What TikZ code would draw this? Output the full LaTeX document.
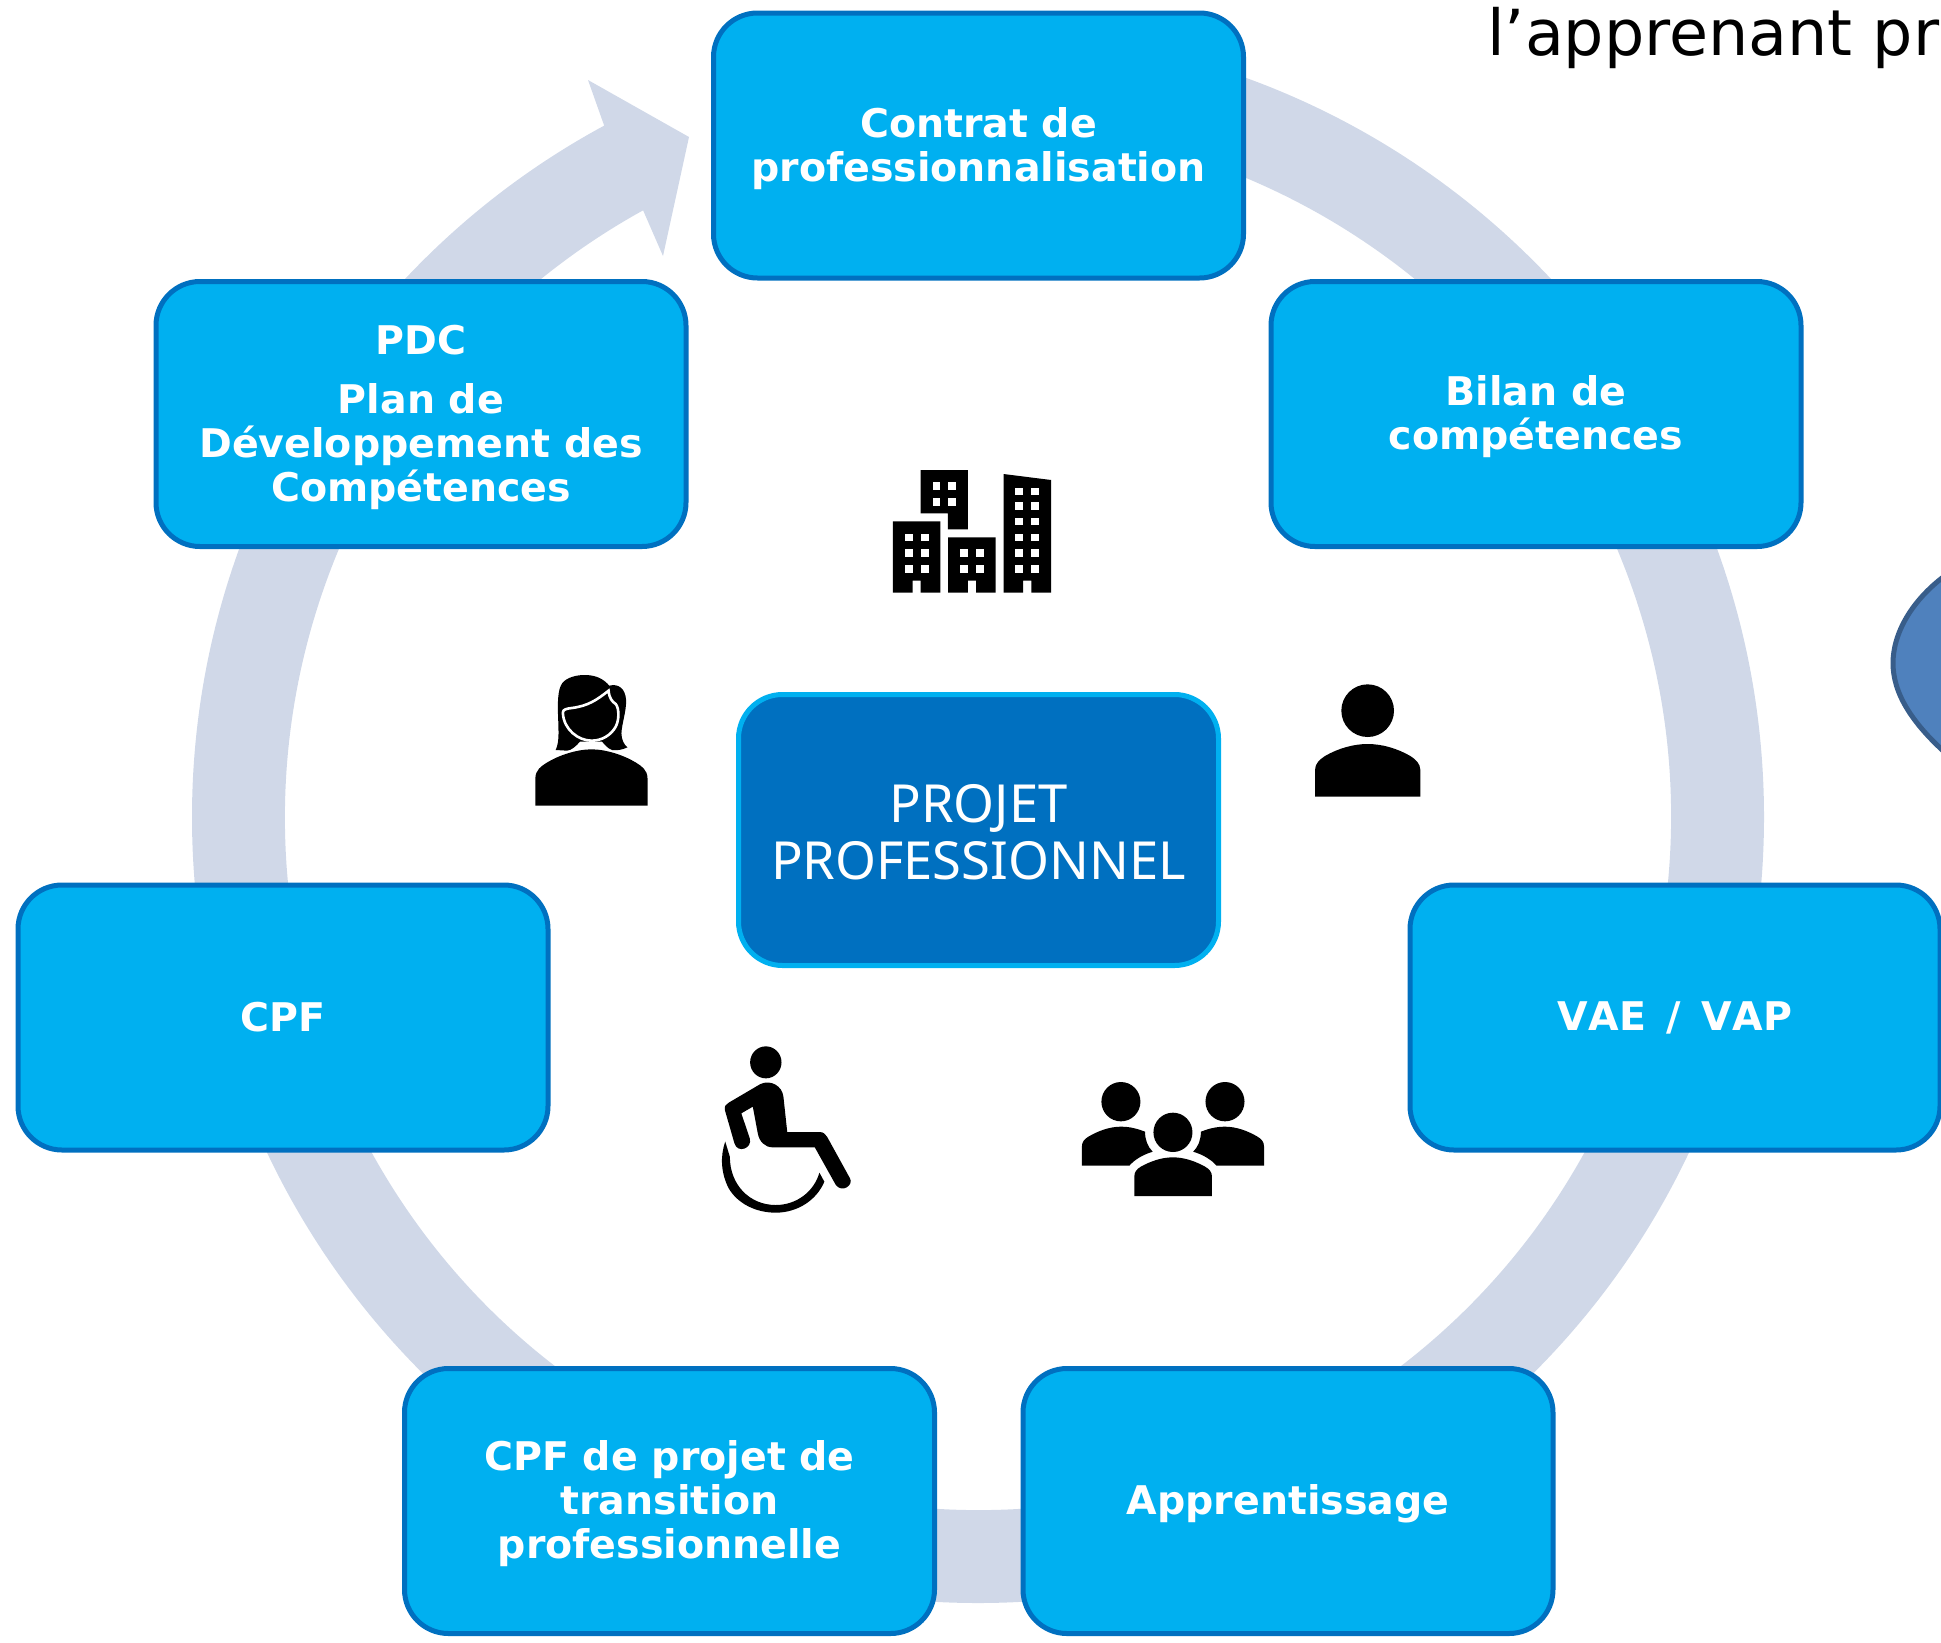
\documentclass[tikz,border=0pt]{standalone}
\usepackage{fontspec}
\setmainfont{DejaVu Sans}
\newfontfamily\ctrfont{Noto Sans}
\definecolor{ringc}{HTML}{D0D8E8}
\definecolor{boxf}{HTML}{00B0F0}
\definecolor{boxd}{HTML}{0070C0}
\definecolor{blobf}{HTML}{4F81BD}
\definecolor{blobd}{HTML}{385D8A}
\tikzset{
  stagebox/.style={rectangle,rounded corners=44pt,draw=boxd,fill=boxf,line width=5pt,
    minimum width=530pt,minimum height=265pt,inner sep=0pt,outer sep=0pt},
  stagetext/.style={text=white,align=center,inner sep=0pt,yshift=-3pt,
    font=\fontsize{39.5}{44}\selectfont\bfseries},
  shorttext/.style={stagetext,yshift=3pt},
  corebox/.style={rectangle,rounded corners=44pt,draw=boxf,fill=boxd,line width=5pt,
    minimum width=480pt,minimum height=271pt,inner sep=0pt,outer sep=0pt},
  coretext/.style={text=white,align=center,inner sep=0pt,yshift=-2pt,
    font=\fontsize{52.5}{57}\selectfont\ctrfont},
  icon/.style={fill=black,draw=none},
  iconwin/.style={fill=white,draw=none},
}
\begin{document}
\begin{tikzpicture}[x=1pt,y=-1pt]
\useasboundingbox (0,0) rectangle (1941,1642);
\coordinate (C) at (978,817);
\path (C) ++(241.1:693) coordinate (Notch);
% ring with arrow head
\fill[ringc] (C) ++(-90:786) arc[start angle=-90,end angle=241.6,radius=786]
  -- (588,80) -- (689,137) -- (663,256) -- (Notch)
  arc[start angle=241.1,end angle=-90,radius=693] -- cycle;
% blob at the right edge
\begin{scope}
\clip (1800,500) rectangle (1941,800);
\draw[fill=blobf,draw=blobd,line width=5pt] (1950,572) .. controls (1910,600) and (1893,635) .. (1893,663)
  .. controls (1893,692) and (1910,722) .. (1950,757) -- (2000,757) -- (2000,572) -- cycle;
\end{scope}
% text cut off by the edge
\node[anchor=base west,inner sep=0pt,font=\fontsize{63.5}{70}\selectfont] (cut) at (1487,55) {l’apprenant pr};
% boxes
\node[stagebox,label={[stagetext]center:Contrat de\\professionnalisation}] (contrat) at (978.5,145.5) {};
\node[stagebox,label={[stagetext]center:PDC\\[15pt]Plan de\\Développement des\\Compétences}] (pdc) at (421,414) {};
\node[stagebox,label={[stagetext]center:Bilan de\\compétences}] (bilan) at (1536,414) {};
\node[stagebox,label={[shorttext]center:CPF}] (cpf) at (283,1017.5) {};
\node[stagebox,label={[shorttext]center:{\addfontfeature{Kerning=Off}VAE\hspace{7pt} / \hspace{7pt}VAP}}] (vae) at (1675,1017.5) {};
\node[stagebox,label={[stagetext]center:CPF de projet de\\transition\\professionnelle}] (cpfp) at (669.5,1501) {};
\node[stagebox,label={[stagetext]center:Apprentissage}] (app) at (1288,1501) {};
\node[corebox,label={[coretext]center:PROJET\\PROFESSIONNEL}] (core) at (978.5,830) {};
% buildings
\begin{scope}[shift={(520,440)},x=0.35714pt,y=-0.33333pt]
\fill[icon] (1122,90) -- (1254,90) -- (1254,268) -- (1198,268) -- (1198,220) -- (1122,220) -- cycle;
\fill[icon] (1044,244) -- (1177,244) -- (1177,458) -- (1122,458) -- (1122,422) -- (1099,422) -- (1099,458) -- (1044,458) -- cycle;
\fill[icon] (1199,292) -- (1332,292) -- (1332,458) -- (1277,458) -- (1277,422) -- (1254,422) -- (1254,458) -- (1199,458) -- cycle;
\fill[icon] (1354,102) -- (1487,120) -- (1487,458) -- (1432,458) -- (1432,422) -- (1409,422) -- (1409,458) -- (1354,458) -- cycle;
\foreach \wx in {1155,1199} \foreach \wy in {126,174} \fill[iconwin] (\wx,\wy) rectangle ++(22,23);
\foreach \wx in {1077,1122} \foreach \wy in {281,328,376} \fill[iconwin] (\wx,\wy) rectangle ++(22,22);
\foreach \wx in {1232,1277} \foreach \wy in {328,376} \fill[iconwin] (\wx,\wy) rectangle ++(22,22);
\foreach \wx in {1387,1432} \foreach \wy in {143,186,233,281,328,376} \fill[iconwin] (\wx,\wy) rectangle ++(22,23);
% woman
\fill[icon] (43,1097) -- (43,1015) .. controls (43,990) and (60,978) .. (75,968)
  .. controls (110,945) and (160,928) .. (200,928) .. controls (240,928) and (290,945) .. (325,968)
  .. controls (340,978) and (357,990) .. (357,1015) -- (357,1097) -- cycle;
\fill[icon] (100,930) .. controls (110,905) and (108,880) .. (107,840) .. controls (105,790) and (105,750) .. (118,730)
  .. controls (130,712) and (160,704) .. (185,705) .. controls (215,706) and (235,718) .. (250,737)
  .. controls (275,730) and (295,745) .. (297,780) .. controls (298,815) and (285,850) .. (284,880)
  .. controls (284,900) and (292,915) .. (301,922) .. controls (285,930) and (270,932) .. (258,930)
  .. controls (245,925) and (238,915) .. (230,905) -- (168,905)
  .. controls (155,920) and (145,930) .. (132,932) -- cycle;
\draw[fill=black,draw=white,line width=2.6pt] (120,818) .. controls (120,808) and (130,806) .. (145,804)
  .. controls (190,798) and (215,780) .. (248,752) .. controls (250,775) and (258,785) .. (268,792)
  .. controls (278,805) and (278,840) .. (268,860) .. controls (255,885) and (230,902) .. (200,902)
  .. controls (165,902) and (122,870) .. (120,818) -- cycle;
\end{scope}
% person
\begin{scope}[shift={(1280,660)},x=0.33333pt,y=-0.33333pt]
\fill[icon] (263,152) circle[radius=79];
\fill[icon] (105,410) -- (105,330) .. controls (105,310) and (120,298) .. (135,288)
  .. controls (175,265) and (220,252) .. (263,252) .. controls (306,252) and (351,265) .. (391,288)
  .. controls (406,298) and (421,310) .. (421,330) -- (421,410) -- cycle;
\end{scope}
% wheelchair and group
\begin{scope}[shift={(700,1030)},x=0.38265pt,y=-0.33333pt]
\fill[icon] (172,97) circle[x radius=41,y radius=48];
\fill[icon] (65,240) .. controls (63,228) and (68,223) .. (75,218) -- (158,162)
  .. controls (185,148) and (215,168) .. (218,200) -- (228,306) -- (312,306)
  .. controls (322,306) and (328,312) .. (332,320) -- (392,445)
  .. controls (402,465) and (372,490) .. (355,465) -- (300,352) -- (190,352)
  .. controls (170,352) and (155,335) .. (151,310) -- (138,230) -- (108,250) -- (130,325)
  .. controls (138,355) and (98,372) .. (90,340) -- cycle;
\fill[icon] (66,335) .. controls (52,380) and (55,430) .. (75,475) .. controls (98,520) and (145,548) .. (198,548)
  .. controls (255,548) and (305,510) .. (325,455) -- (312,428)
  .. controls (298,485) and (252,525) .. (198,525) .. controls (130,525) and (78,465) .. (78,380) -- cycle;
\fill[icon] (1100,215) circle[x radius=51,y radius=59];
\fill[icon] (1372,215) circle[x radius=51,y radius=59];
\fill[icon] (1236,307) circle[x radius=51,y radius=59];
\fill[icon] (998,407) -- (998,350) .. controls (998,335) and (1005,327) .. (1015,320)
  .. controls (1040,303) and (1070,290) .. (1100,290) .. controls (1125,290) and (1145,297) .. (1163,305)
  .. controls (1163,330) and (1170,350) .. (1183,365) .. controls (1155,375) and (1135,390) .. (1122,407) -- cycle;
\fill[icon] (1474,407) -- (1474,350) .. controls (1474,335) and (1467,327) .. (1457,320)
  .. controls (1432,303) and (1402,290) .. (1372,290) .. controls (1347,290) and (1327,297) .. (1309,305)
  .. controls (1309,330) and (1302,350) .. (1289,365) .. controls (1317,375) and (1337,390) .. (1350,407) -- cycle;
\fill[icon] (1135,498) -- (1135,440) .. controls (1135,425) and (1142,417) .. (1152,410)
  .. controls (1177,394) and (1206,382) .. (1236,382) .. controls (1266,382) and (1295,394) .. (1320,410)
  .. controls (1330,417) and (1338,425) .. (1338,440) -- (1338,498) -- cycle;
\end{scope}
\end{tikzpicture}
\end{document}
